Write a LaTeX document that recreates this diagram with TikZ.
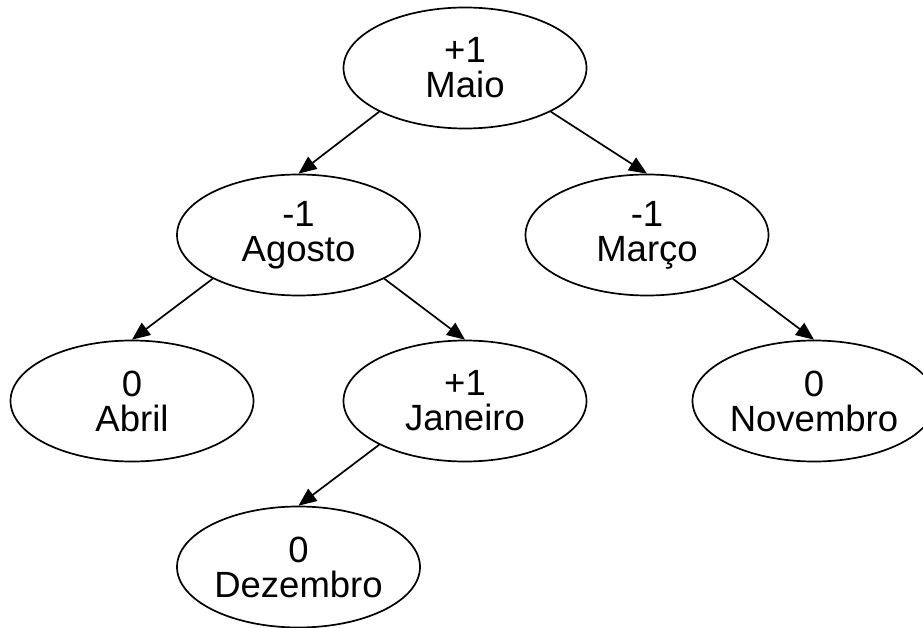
\documentclass[tikz,border=0pt]{standalone}
\usepackage{fontspec}
\setmainfont{Liberation Sans}
\usetikzlibrary{shapes.geometric,arrows.meta}

\tikzset{
  treenode/.style={ellipse, draw=black, line width=1.7pt, fill=white,
    minimum width=243pt, minimum height=121pt, inner sep=0pt,
    align=center, font=\fontsize{36.5}{35}\selectfont},
  treeedge/.style={line width=1.7pt, -{Triangle[length=18pt,width=15pt]}}
}

\begin{document}
\begin{tikzpicture}[x=1pt, y=-1pt]
  \fill[white] (0,0) rectangle (923,628);
  \useasboundingbox (0,0) rectangle (923,628);

  % AVL tree of months with balance factors
  \node[treenode] (maio)     at (465,68)    {+1\\Maio};
  \node[treenode] (agosto)   at (298.5,235) {-1\\Agosto};
  \node[treenode] (marco)    at (647,235)   {-1\\Março};
  \node[treenode] (abril)    at (132,401)   {0\\Abril};
  \node[treenode] (janeiro)  at (465,401)   {+1\\Janeiro};
  \node[treenode] (novembro) at (814,401)   {0\\Novembro};
  \node[treenode] (dezembro) at (298.5,567) {0\\Dezembro};

  \draw[treeedge] (maio.207)    -- (agosto.north);
  \draw[treeedge] (maio.333)    -- (marco.north);
  \draw[treeedge] (agosto.207)  -- (abril.north);
  \draw[treeedge] (agosto.333)  -- (janeiro.north);
  \draw[treeedge] (marco.333)   -- (novembro.north);
  \draw[treeedge] (janeiro.207) -- (dezembro.north);
\end{tikzpicture}
\end{document}
